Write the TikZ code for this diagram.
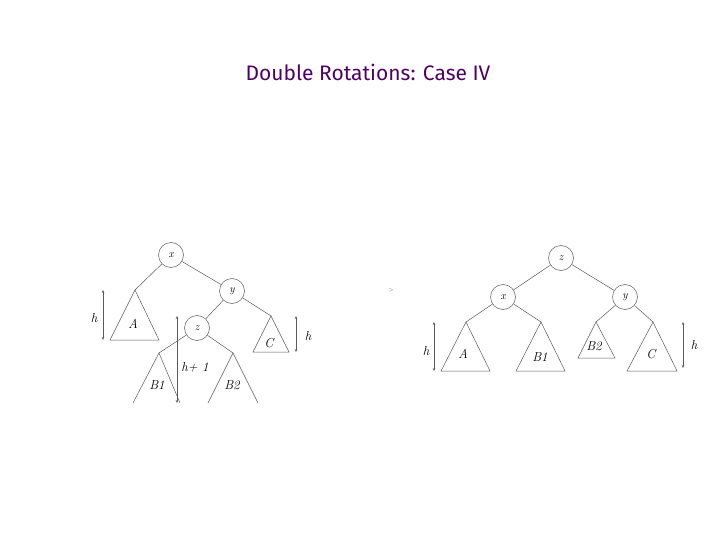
\documentclass[tikz,border=0pt]{standalone}
\usepackage{fontspec}
\newfontfamily\titlefont{Fira Sans}
\usetikzlibrary{arrows.meta}
\definecolor{titlepurple}{RGB}{80,0,100}
\definecolor{linegray}{RGB}{90,90,90}
\tikzset{
  keynode/.style={circle,draw=linegray,line width=0.5pt,minimum size=25pt,inner sep=0pt,font=\fontsize{11}{13}\selectfont\itshape},
  edge/.style={draw=linegray,line width=0.5pt},
  lbl/.style={font=\fontsize{13}{15}\selectfont\itshape,inner sep=0pt},
  harrow/.style={draw=linegray,line width=0.6pt,{Stealth[length=3pt,width=2.5pt]}-{Stealth[length=3pt,width=2.5pt]}},
}
\begin{document}
\begin{tikzpicture}[x=1pt,y=-1pt]
\useasboundingbox (0,0) rectangle (720,540);
\node[font=\titlefont\fontsize{21}{24}\selectfont,text=titlepurple] (title) at (368,72) {Double Rotations: Case IV};
% ---- left tree ----
\node[keynode] (lx) at (171,255) {x};
\node[keynode] (ly) at (232,291) {y};
\node[keynode] (lz) at (197,328) {z};
\coordinate (lAtop) at (135,290);
\coordinate (lAbl) at (110,340);
\coordinate (lAbr) at (159,340);
\coordinate (lCtop) at (271,316);
\coordinate (lCbl) at (253,352);
\coordinate (lCbr) at (289,352);
\coordinate (lB1top) at (159,353);
\coordinate (lB1bl) at (133,403);
\coordinate (lB1br) at (180,403);
\coordinate (lB2top) at (233,353);
\coordinate (lB2bl) at (208,403);
\coordinate (lB2br) at (258,403);
\draw[edge] (lx) -- (lAtop);
\draw[edge] (lx) -- (ly);
\draw[edge] (ly) -- (lz);
\draw[edge] (ly) -- (lCtop);
\draw[edge] (lz) -- (lB1top);
\draw[edge] (lz) -- (lB2top);
\draw[edge] (lAtop) -- (lAbl) -- (lAbr) -- cycle;
\draw[edge] (lCtop) -- (lCbl) -- (lCbr) -- cycle;
\draw[edge] (lB1bl) -- (lB1top) -- (lB1br);
\draw[edge] (lB2bl) -- (lB2top) -- (lB2br);
\node[lbl] (lA) at (133,324) {A};
\node[lbl] (lC) at (269,343) {C};
\node[lbl] (lB1) at (157,385) {B1};
\node[lbl] (lB2) at (232,385) {B2};
\coordinate (lh1t) at (103,290);
\coordinate (lh1b) at (103,340);
\draw[harrow] (lh1t) -- (lh1b);
\node[lbl] (lh1) at (94,318) {h};
\coordinate (lh2t) at (296,316);
\coordinate (lh2b) at (296,352);
\draw[harrow] (lh2t) -- (lh2b);
\node[lbl] (lh2) at (308,336) {h};
\coordinate (lh3t) at (177,316);
\coordinate (lh3b) at (177,403);
\draw[harrow] (lh3t) -- (lh3b);
\node[lbl] (lh3) at (195,367) {h+ 1};
% small mark
\node[font=\tiny,text=linegray,inner sep=0pt] (mark) at (391,290) {$\scriptscriptstyle>$};
% ---- right tree ----
\node[keynode] (rz) at (561,258) {z};
\node[keynode] (rx) at (503,297) {x};
\node[keynode] (ry) at (625,297) {y};
\coordinate (rAtop) at (466,322);
\coordinate (rAbl) at (441,371);
\coordinate (rAbr) at (490,371);
\coordinate (rB1top) at (541,322);
\coordinate (rB1bl) at (516,371);
\coordinate (rB1br) at (565,371);
\coordinate (rB2top) at (596,322);
\coordinate (rB2bl) at (578,358);
\coordinate (rB2br) at (615,358);
\coordinate (rCtop) at (653,322);
\coordinate (rCbl) at (627,371);
\coordinate (rCbr) at (677,371);
\draw[edge] (rz) -- (rx);
\draw[edge] (rz) -- (ry);
\draw[edge] (rx) -- (rAtop);
\draw[edge] (rx) -- (rB1top);
\draw[edge] (ry) -- (rB2top);
\draw[edge] (ry) -- (rCtop);
\draw[edge] (rAtop) -- (rAbl) -- (rAbr) -- cycle;
\draw[edge] (rB1top) -- (rB1bl) -- (rB1br) -- cycle;
\draw[edge] (rB2top) -- (rB2bl) -- (rB2br) -- cycle;
\draw[edge] (rCtop) -- (rCbl) -- (rCbr) -- cycle;
\node[lbl] (rA) at (463,354) {A};
\node[lbl] (rB1) at (540,357) {B1};
\node[lbl] (rB2) at (594,346) {B2};
\node[lbl] (rC) at (651,354) {C};
\coordinate (rh1t) at (434,322);
\coordinate (rh1b) at (434,371);
\draw[harrow] (rh1t) -- (rh1b);
\node[lbl] (rh1) at (426,351) {h};
\coordinate (rh2t) at (683,322);
\coordinate (rh2b) at (683,368);
\draw[harrow] (rh2t) -- (rh2b);
\node[lbl] (rh2) at (694,345) {h};
\end{tikzpicture}
\end{document}
